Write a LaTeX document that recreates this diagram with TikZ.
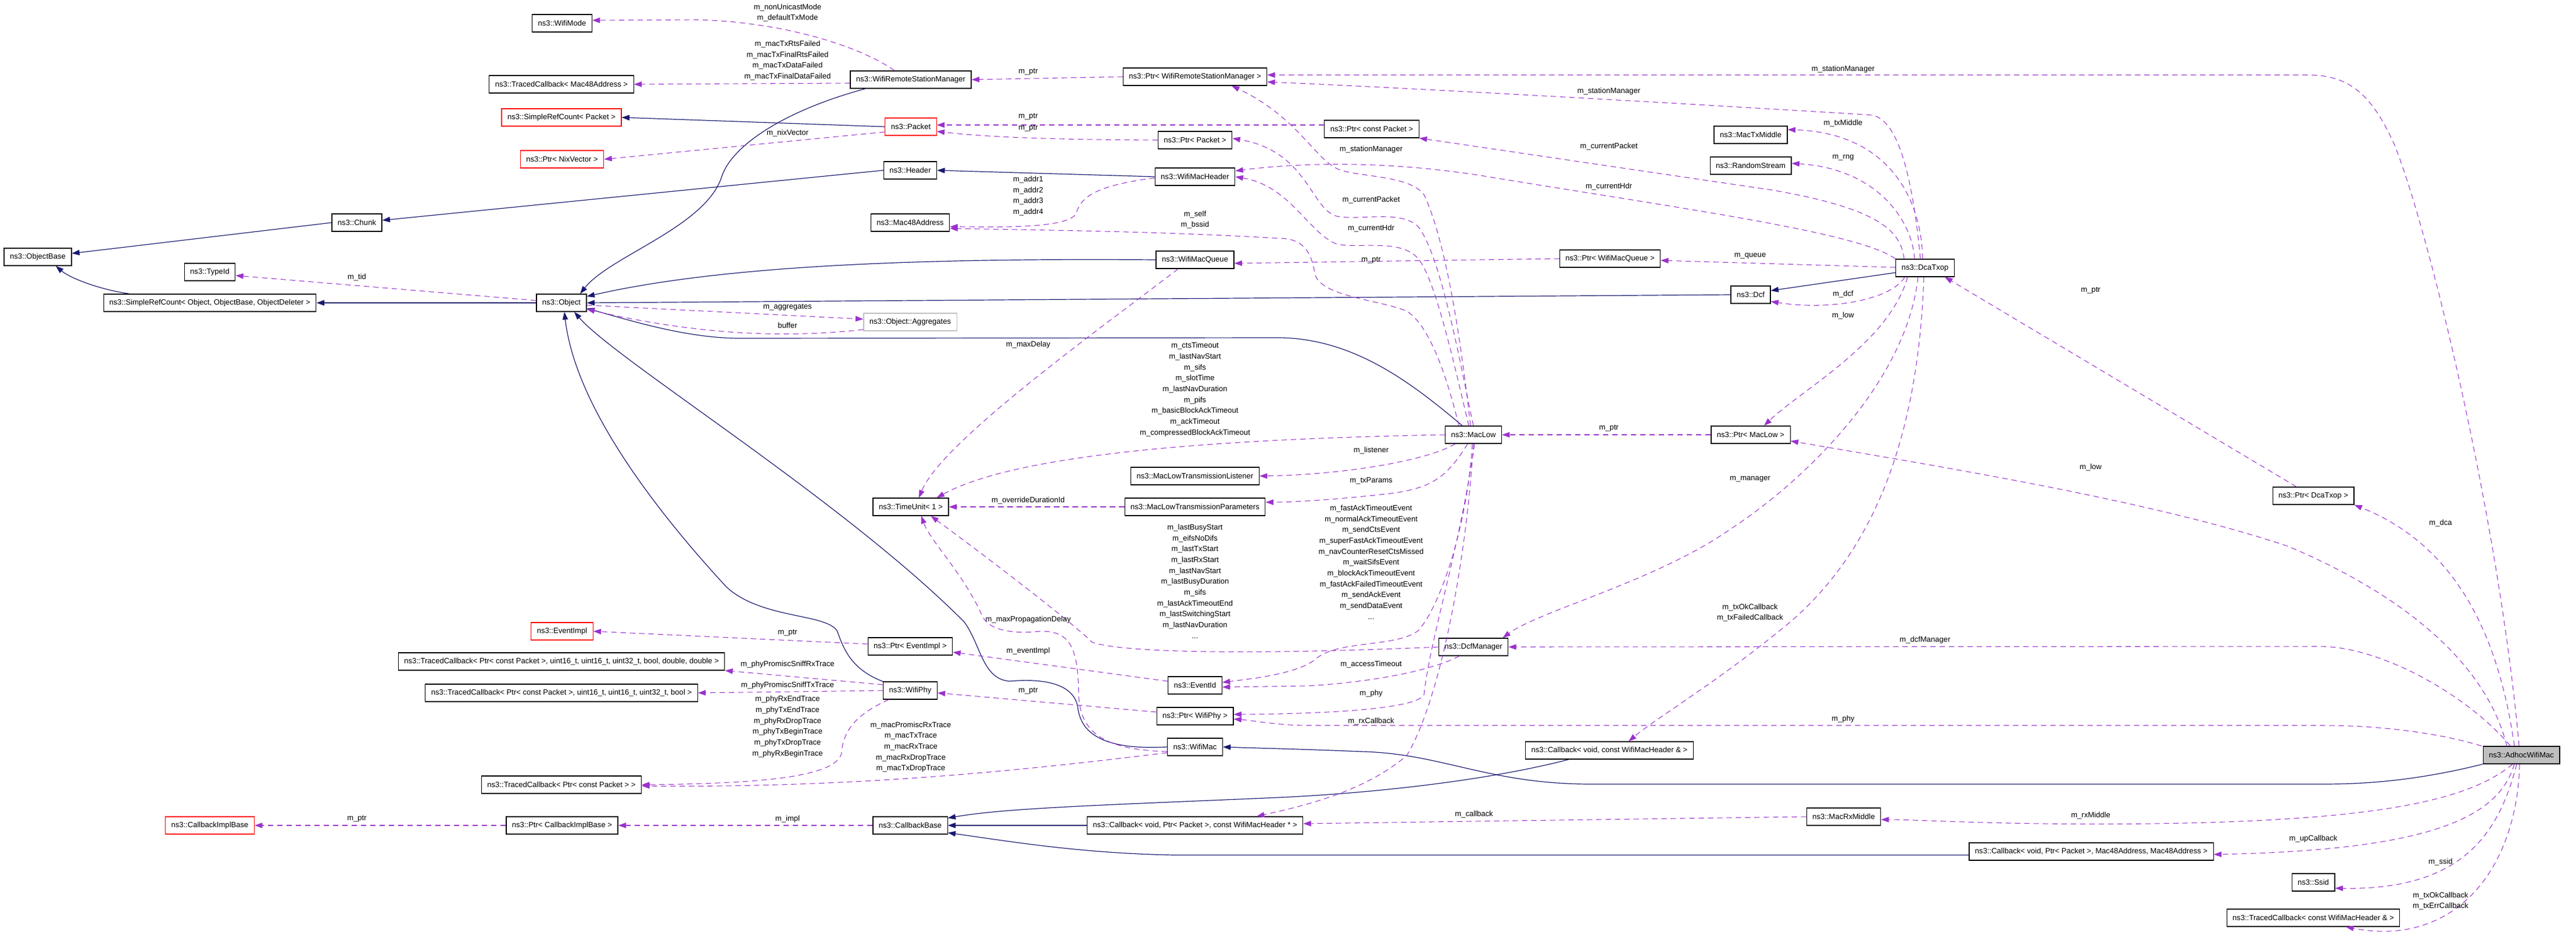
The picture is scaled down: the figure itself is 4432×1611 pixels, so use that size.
\documentclass[tikz,border=0pt]{standalone}
\usepackage{fontspec}
\setmainfont{Liberation Sans}
\usetikzlibrary{arrows.meta, calc}
\definecolor{depcol}{HTML}{9A32CD}
\definecolor{inhcol}{HTML}{191970}
\definecolor{nodered}{HTML}{FF0000}
\definecolor{aggrgray}{HTML}{BFBFBF}

\begin{document}
\begin{tikzpicture}[x=0.75pt, y=-0.75pt,
    cls/.style={draw=black, fill=white, line width=0.9pt, font=\fontsize{9.8}{14}\selectfont,
                minimum height=22.5pt, inner xsep=7.5pt, inner ysep=1pt},
    redcls/.style={cls, draw=nodered},
    graycls/.style={cls, draw=aggrgray},
    maincls/.style={cls, fill=aggrgray},
    lbl/.style={font=\fontsize{9.8}{14}\selectfont, align=center, inner sep=0pt},
    dep/.style={draw=depcol, line width=0.8pt, dash pattern=on 7pt off 5pt,
                -{Triangle[length=10pt,width=7pt]}},
    inh/.style={draw=inhcol, line width=0.9pt, -{Triangle[length=10pt,width=7pt]}}]
    \useasboundingbox (0,0) rectangle (4432,1611);

    % classes, left part
    \node[cls] (wifimode) at (967,40) {ns3::WifiMode};
    \node[cls] (tcmac) at (966,145) {ns3::TracedCallback< Mac48Address >};
    \node[redcls] (srcpacket) at (966,202) {ns3::SimpleRefCount< Packet >};
    \node[redcls] (ptrnix) at (967,274) {ns3::Ptr< NixVector >};
    \node[cls] (chunk) at (614,383) {ns3::Chunk};
    \node[cls] (objbase) at (65,442) {ns3::ObjectBase};
    \node[cls] (typeid) at (361,468) {ns3::TypeId};
    \node[cls] (srcobject) at (361,521) {ns3::SimpleRefCount< Object, ObjectBase, ObjectDeleter >};
    \node[cls] (object) at (966,521) {ns3::Object};
    \node[redcls] (eventimpl) at (967,1086) {ns3::EventImpl};
    \node[cls] (tcsniffrx) at (966,1138) {ns3::TracedCallback< Ptr< const Packet >, uint16\_t, uint16\_t, uint32\_t, bool, double, double >};
    \node[cls] (tcsnifftx) at (966,1192) {ns3::TracedCallback< Ptr< const Packet >, uint16\_t, uint16\_t, uint32\_t, bool >};
    \node[cls] (tcpacket) at (966,1350) {ns3::TracedCallback< Ptr< const Packet > >};
    \node[redcls] (cbimplbase) at (361,1420) {ns3::CallbackImplBase};
    \node[cls] (ptrcbimpl) at (967,1420) {ns3::Ptr< CallbackImplBase >};

    % classes, middle part
    \node[cls] (wrsm) at (1567,137) {ns3::WifiRemoteStationManager};
    \node[redcls] (packet) at (1567,218) {ns3::Packet};
    \node[cls] (header) at (1566,293) {ns3::Header};
    \node[cls] (mac48) at (1566,383) {ns3::Mac48Address};
    \node[graycls] (aggregates) at (1566,554) {ns3::Object::Aggregates};
    \node[cls] (timeunit) at (1567,872) {ns3::TimeUnit< 1 >};
    \node[cls] (ptreventimpl) at (1566,1112) {ns3::Ptr< EventImpl >};
    \node[cls] (wifiphy) at (1566,1188) {ns3::WifiPhy};
    \node[cls] (callbackbase) at (1566,1420) {ns3::CallbackBase};
    \node[cls] (ptrwrsm) at (2056,132) {ns3::Ptr< WifiRemoteStationManager >};
    \node[cls] (ptrpacket) at (2056,241) {ns3::Ptr< Packet >};
    \node[cls] (wifimacheader) at (2056,304) {ns3::WifiMacHeader};
    \node[cls] (wifimacqueue) at (2056,447) {ns3::WifiMacQueue};
    \node[cls] (listener) at (2056,819) {ns3::MacLowTransmissionListener};
    \node[cls] (txparams) at (2056,872) {ns3::MacLowTransmissionParameters};
    \node[cls] (eventid) at (2056,1179) {ns3::EventId};
    \node[cls] (ptrwifiphy) at (2056,1232) {ns3::Ptr< WifiPhy >};
    \node[cls] (wifimac) at (2056,1285) {ns3::WifiMac};
    \node[cls] (cbrx) at (2056,1420) {ns3::Callback< void, Ptr< Packet >, const WifiMacHeader * >};
    \node[cls] (ptrconstpacket) at (2360,222) {ns3::Ptr< const Packet >};
    \node[cls] (maclow) at (2535,748) {ns3::MacLow};
    \node[cls] (dcfmanager) at (2535,1113) {ns3::DcfManager};
    \node[cls] (ptrqueue) at (2770,445) {ns3::Ptr< WifiMacQueue >};
    \node[cls] (cbhdr) at (2769,1291) {ns3::Callback< void, const WifiMacHeader \& >};

    % classes, right part
    \node[cls] (mactxmiddle) at (3012,232) {ns3::MacTxMiddle};
    \node[cls] (randomstream) at (3012,285) {ns3::RandomStream};
    \node[cls] (dcf) at (3012,507) {ns3::Dcf};
    \node[cls] (ptrmaclow) at (3012,748) {ns3::Ptr< MacLow >};
    \node[cls] (macrxmiddle) at (3172,1405) {ns3::MacRxMiddle};
    \node[cls] (dcatxop) at (3312,461) {ns3::DcaTxop};
    \node[cls] (cbup) at (3598,1465) {ns3::Callback< void, Ptr< Packet >, Mac48Address, Mac48Address >};
    \node[cls] (ptrdca) at (3980,853) {ns3::Ptr< DcaTxop >};
    \node[cls] (ssid) at (3980,1518) {ns3::Ssid};
    \node[cls] (tchdr) at (3980,1579) {ns3::TracedCallback< const WifiMacHeader \& >};
    \node[maincls] (adhoc) at (4338,1299) {ns3::AdhocWifiMac};

    % inheritance
    \draw[inh] (chunk.west) -- ($(objbase.east)+(0,-6)$);
    \draw[inh] ($(srcobject.north)+(-138,0)$) .. controls (170,498) and (120,478) .. ($(objbase.south)+(31,0)$);
    \draw[inh] (object.west) -- (srcobject.east);
    \draw[inh] (header.west) -- ($(chunk.east)+(0,-4)$);
    \draw[inh] (packet.west) -- (srcpacket.east);
    \draw[inh] (wifimacheader.west) -- (header.east);
    \draw[inh] ($(wrsm.south)+(-78,0)$) .. controls (1350,190) and (1260,250) .. (1242,303)
        .. controls (1215,390) and (1050,440) .. ($(object.north)+(32,0)$);
    \draw[inh] (wifimacqueue.west) .. controls (1600,444) and (1250,455) .. ($(object.east)+(0,-11)$);
    \draw[inh] (dcf.west) -- (object.east);
    \draw[inh] ($(dcatxop.west)+(0,8)$) -- ($(dcf.east)+(0,-7)$);
    \draw[inh] ($(maclow.north)+(-19,0)$) .. controls (2430,660) and (2330,582) .. (2200,581) -- (1273,582)
        .. controls (1180,582) and (1080,550) .. ($(object.south east)+(0,-6)$);
    \draw[inh] (wifimac.west) .. controls (1880,1292) and (1858,1250) .. (1854,1215)
        .. controls (1845,1170) and (1780,1168) .. (1737,1172)
        .. controls (1690,1168) and (1688,1110) .. (1659,1070)
        .. controls (1450,860) and (1060,620) .. ($(object.south)+(22,0)$);
    \draw[inh] (wifiphy.north west) .. controls (1460,1150) and (1450,1110) .. (1440,1085)
        .. controls (1420,1055) and (1310,1065) .. (1250,1010)
        .. controls (1130,880) and (990,700) .. ($(object.south)+(5,0)$);
    \draw[inh] (adhoc.south west) .. controls (4150,1345) and (4060,1349) .. (3994,1349) -- (2738,1349)
        .. controls (2560,1349) and (2480,1296) .. (2342,1293)
        .. controls (2250,1289) and (2160,1287) .. (wifimac.east);
    \draw[inh] ($(cbhdr.south)+(-70,0)$) .. controls (2550,1345) and (2350,1365) .. (2200,1372)
        .. controls (1900,1385) and (1730,1390) .. ($(callbackbase.north east)+(0,3)$);
    \draw[inh] (cbrx.west) -- (callbackbase.east);
    \draw[inh] ($(cbup.west)+(0,6)$) -- (2020,1471) .. controls (1860,1468) and (1740,1448) .. ($(callbackbase.south east)+(0,-3)$);

    % members, left and middle
    \draw[dep] ($(wrsm.north)+(-28,0)$) .. controls (1480,80) and (1350,38) .. (1200,34) -- ($(wifimode.east)+(0,-5)$);
    \draw[dep] ($(wrsm.west)+(0,6)$) -- (tcmac.east);
    \draw[dep] ($(packet.west)+(0,9)$) -- (ptrnix.east);
    \draw[dep] (ptrwrsm.west) -- (wrsm.east);
    \draw[dep] ($(ptrconstpacket.west)+(0,-7)$) -- ($(packet.east)+(0,-3)$);
    \draw[dep] (ptrpacket.west) .. controls (1800,240) and (1700,236) .. ($(packet.east)+(0,8)$);
    \draw[dep] ($(wifimacheader.west)+(0,2)$) .. controls (1880,320) and (1860,340) .. (1851,368)
        .. controls (1835,395) and (1700,390) .. ($(mac48.east)+(0,7)$);
    \draw[dep] ($(object.west)+(0,-4)$) -- ($(typeid.east)+(0,6)$);
    \draw[dep] ($(object.east)+(0,4)$) -- ($(aggregates.west)+(0,-5)$);
    \draw[dep] ($(aggregates.west)+(0,13)$) .. controls (1350,582) and (1200,576) .. ($(object.east)+(0,11)$);
    \draw[dep] ($(wifimacqueue.south)+(-29,0)$) .. controls (1900,560) and (1620,760) .. ($(timeunit.north)+(14,0)$);
    \draw[dep] (txparams.west) -- (timeunit.east);
    \draw[dep] (dcfmanager.west) .. controls (2250,1123) and (1950,1128) .. (1879,1105)
        .. controls (1850,1075) and (1700,960) .. ($(timeunit.south east)+(-31,0)$);
    \draw[dep] ($(wifimac.west)+(0,8)$) .. controls (1885,1290) and (1860,1250) .. (1856,1200)
        .. controls (1855,1120) and (1845,1085) .. (1790,1086)
        .. controls (1730,1092) and (1700,1080) .. (1690,1060)
        .. controls (1660,990) and (1600,930) .. ($(timeunit.south)+(18,0)$);
    \draw[dep] (dcfmanager.south) ++(-24,0) .. controls (2470,1150) and (2380,1172) .. (2250,1180) -- ($(eventid.east)+(0,3)$);
    \draw[dep] ($(eventid.west)+(0,-7)$) -- ($(ptreventimpl.east)+(0,10)$);
    \draw[dep] ($(ptreventimpl.west)+(0,-4)$) -- (eventimpl.east);
    \draw[dep] ($(wifiphy.west)+(0,-10)$) -- (tcsniffrx.south east);
    \draw[dep] (wifiphy.west) -- (tcsnifftx.east);
    \draw[dep] ($(wifiphy.south west)+(10,0)$) .. controls (1470,1230) and (1450,1260) .. (1448,1295)
        .. controls (1440,1338) and (1300,1348) .. (tcpacket.east);
    \draw[dep] ($(wifimac.west)+(0,10)$) .. controls (1800,1320) and (1500,1356) .. ($(tcpacket.east)+(0,2)$);
    \draw[dep] ($(ptrwifiphy.west)+(0,-7)$) -- ($(wifiphy.east)+(0,4)$);
    \draw[dep] (callbackbase.west) -- (ptrcbimpl.east);
    \draw[dep] (ptrcbimpl.west) -- (cbimplbase.east);
    \draw[dep] (macrxmiddle.west) -- ($(cbrx.east)+(0,-3)$);
    \draw[dep] (ptrqueue.west) -- ($(wifimacqueue.east)+(0,6)$);

    % members of MacLow
    \draw[dep] ($(maclow.north)+(-25,0)$) .. controls (2490,650) and (2460,560) .. (2420,535)
        .. controls (2370,515) and (2270,510) .. (2262,470)
        .. controls (2255,425) and (2235,410) .. (2200,410)
        .. controls (2000,398) and (1800,396) .. ($(mac48.east)+(0,10)$);
    \draw[dep] ($(maclow.north)+(-5,0)$) .. controls (2515,600) and (2490,420) .. (2450,335)
        .. controls (2425,300) and (2330,305) .. (2300,290)
        .. controls (2260,270) and (2230,200) .. ($(ptrwrsm.south)+(63,0)$);
    \draw[dep] (maclow.north) .. controls (2515,640) and (2480,440) .. (2440,390)
        .. controls (2410,360) and (2340,380) .. (2300,372)
        .. controls (2255,360) and (2250,260) .. ($(ptrpacket.east)+(0,-3)$);
    \draw[dep] ($(maclow.north)+(-8,0)$) .. controls (2505,640) and (2470,480) .. (2440,445)
        .. controls (2410,410) and (2340,428) .. (2300,420)
        .. controls (2250,400) and (2220,320) .. (wifimacheader.east);
    \draw[dep] (maclow.west) .. controls (2100,755) and (1750,780) .. ($(timeunit.north east)+(-21,0)$);
    \draw[dep] ($(maclow.south west)+(18,0)$) .. controls (2450,795) and (2300,817) .. (listener.east);
    \draw[dep] ($(maclow.south)+(-10,0)$) .. controls (2490,820) and (2465,838) .. (2400,848)
        .. controls (2300,860) and (2220,864) .. ($(txparams.east)+(0,-8)$);
    \draw[dep] ($(maclow.south)+(-2,0)$) .. controls (2525,900) and (2480,1040) .. (2440,1085)
        .. controls (2400,1115) and (2300,1100) .. (2262,1135)
        .. controls (2230,1160) and (2150,1168) .. ($(eventid.east)+(0,-5)$);
    \draw[dep] ($(maclow.south)+(2,0)$) .. controls (2510,950) and (2460,1100) .. (2450,1195)
        .. controls (2440,1218) and (2300,1228) .. ($(ptrwifiphy.east)+(0,-3)$);
    \draw[dep] (maclow.south) .. controls (2520,1000) and (2470,1220) .. (2420,1300)
        .. controls (2350,1360) and (2250,1385) .. ($(cbrx.north)+(106,0)$);

    % members of DcaTxop
    \draw[dep] ($(dcatxop.south)+(-30,0)$) .. controls (3250,590) and (3100,670) .. ($(ptrmaclow.north)+(23,0)$);
    \draw[dep] (ptrmaclow.west) -- (maclow.east);
    \draw[dep] ($(dcatxop.south)+(-12,0)$) .. controls (3280,660) and (3100,830) .. (2979,909)
        .. controls (2850,1000) and (2650,1050) .. ($(dcfmanager.north east)+(-10,0)$);
    \draw[dep] ($(dcatxop.south)+(-2,0)$) .. controls (3300,760) and (3220,950) .. (3080,1070)
        .. controls (2960,1170) and (2850,1235) .. ($(cbhdr.north)+(33,0)$);
    \draw[dep] ($(dcatxop.north)+(-8,0)$) .. controls (3290,300) and (3265,205) .. (3220,198)
        .. controls (2900,178) and (2400,150) .. ($(ptrwrsm.east)+(0,9)$);
    \draw[dep] ($(dcatxop.north)+(-36,0)$) .. controls (3270,400) and (3240,360) .. (3049,327) -- (ptrconstpacket.south east);
    \draw[dep] ($(dcatxop.north)+(-4,0)$) .. controls (3305,330) and (3240,228) .. ($(mactxmiddle.east)+(0,-9)$);
    \draw[dep] ($(dcatxop.north)+(-18,0)$) .. controls (3290,380) and (3230,290) .. ($(randomstream.east)+(0,-4)$);
    \draw[dep] (dcatxop.north west) .. controls (3200,400) and (2900,360) .. (2554,303)
        .. controls (2400,278) and (2250,278) .. ($(wifimacheader.east)+(0,-10)$);
    \draw[dep] ($(dcatxop.west)+(0,-1)$) -- ($(ptrqueue.east)+(0,3)$);
    \draw[dep] ($(dcatxop.south)+(-35,0)$) .. controls (3255,515) and (3150,535) .. ($(dcf.south east)+(0,-4)$);
    \draw[dep] ($(ptrdca.north)+(-29,0)$) -- ($(dcatxop.south)+(34,0)$);

    % members of AdhocWifiMac
    \draw[dep] ($(adhoc.north)+(-4,0)$) .. controls (4300,900) and (4180,400) .. (4120,250)
        .. controls (4080,160) and (4040,129) .. (3970,129) -- ($(ptrwrsm.east)+(0,-3)$);
    \draw[dep] ($(adhoc.north)+(-25,0)$) .. controls (4280,1150) and (4150,1030) .. (3937,940)
        .. controls (3700,860) and (3320,800) .. ($(ptrmaclow.south east)+(0,-5)$);
    \draw[dep] ($(adhoc.north)+(-12,0)$) .. controls (4300,1100) and (4230,940) .. (ptrdca.south east);
    \draw[dep] ($(adhoc.north)+(-19,0)$) .. controls (4250,1200) and (4100,1112) .. (3990,1112) -- (dcfmanager.east);
    \draw[dep] ($(adhoc.north west)+(-2,0)$) .. controls (4200,1262) and (4100,1248) .. (3994,1248) -- (2250,1248)
        .. controls (2200,1248) and (2160,1240) .. ($(ptrwifiphy.east)+(0,5)$);
    \draw[dep] ($(adhoc.south)+(-15,0)$) .. controls (4250,1375) and (4100,1412) .. (3700,1417)
        .. controls (3450,1420) and (3300,1410) .. ($(macrxmiddle.east)+(0,5)$);
    \draw[dep] ($(adhoc.south)+(-12,0)$) .. controls (4300,1400) and (4200,1462) .. ($(cbup.east)+(0,5)$);
    \draw[dep] ($(adhoc.south)+(-8,0)$) .. controls (4300,1430) and (4240,1532) .. ($(ssid.east)+(0,10)$);
    \draw[dep] ($(adhoc.south)+(-3,0)$) .. controls (4330,1500) and (4220,1630) .. ($(tchdr.south)+(56,0)$);

    % labels
    \node[lbl] (lbtxmode) at (1355,22) {m\_nonUnicastMode\\m\_defaultTxMode};
    \node[lbl] (lbfailed) at (1355,104) {m\_macTxRtsFailed\\m\_macTxFinalRtsFailed\\m\_macTxDataFailed\\m\_macTxFinalDataFailed};
    \node[lbl] (lbnix) at (1355,229) {m\_nixVector};
    \node[lbl] (lbptrwrsm) at (1769,124) {m\_ptr};
    \node[lbl] (lbptrcpkt) at (1769,201) {m\_ptr};
    \node[lbl] (lbptrpkt) at (1769,221) {m\_ptr};
    \node[lbl] (lbaddr) at (1769,337) {m\_addr1\\m\_addr2\\m\_addr3\\m\_addr4};
    \node[lbl] (lbself) at (2056,378) {m\_self\\m\_bssid};
    \node[lbl] (lbtid) at (614,477) {m\_tid};
    \node[lbl] (lbaggr) at (1355,529) {m\_aggregates};
    \node[lbl] (lbbuffer) at (1355,560) {buffer};
    \node[lbl] (lbmaxdelay) at (1769,593) {m\_maxDelay};
    \node[lbl] (lbmaclowtime) at (2056,670) {m\_ctsTimeout\\m\_lastNavStart\\m\_sifs\\m\_slotTime\\m\_lastNavDuration\\m\_pifs\\m\_basicBlockAckTimeout\\m\_ackTimeout\\m\_compressedBlockAckTimeout};
    \node[lbl] (lboverride) at (1769,861) {m\_overrideDurationId};
    \node[lbl] (lbdcftime) at (2056,1000) {m\_lastBusyStart\\m\_eifsNoDifs\\m\_lastTxStart\\m\_lastRxStart\\m\_lastNavStart\\m\_lastBusyDuration\\m\_sifs\\m\_lastAckTimeoutEnd\\m\_lastSwitchingStart\\m\_lastNavDuration\\...};
    \node[lbl] (lbmaxprop) at (1769,1066) {m\_maxPropagationDelay};
    \node[lbl] (lbsm1) at (3171,119) {m\_stationManager};
    \node[lbl] (lbsm2) at (2768,157) {m\_stationManager};
    \node[lbl] (lbsm3) at (2359,257) {m\_stationManager};
    \node[lbl] (lbtxmiddle) at (3171,212) {m\_txMiddle};
    \node[lbl] (lbcurpkt1) at (2768,252) {m\_currentPacket};
    \node[lbl] (lbrng) at (3171,271) {m\_rng};
    \node[lbl] (lbcurhdr1) at (2768,321) {m\_currentHdr};
    \node[lbl] (lbcurpkt2) at (2359,344) {m\_currentPacket};
    \node[lbl] (lbcurhdr2) at (2359,393) {m\_currentHdr};
    \node[lbl] (lbptrqueue) at (2359,448) {m\_ptr};
    \node[lbl] (lbqueue) at (3011,440) {m\_queue};
    \node[lbl] (lbdcf) at (3171,506) {m\_dcf};
    \node[lbl] (lbptrdca) at (3597,500) {m\_ptr};
    \node[lbl] (lblow1) at (3171,543) {m\_low};
    \node[lbl] (lbptrlow) at (2768,737) {m\_ptr};
    \node[lbl] (lblistener) at (2359,775) {m\_listener};
    \node[lbl] (lbtxparams) at (2359,827) {m\_txParams};
    \node[lbl] (lbmanager) at (3011,824) {m\_manager};
    \node[lbl] (lblow2) at (3597,804) {m\_low};
    \node[lbl] (lbdca) at (4199,900) {m\_dca};
    \node[lbl] (lbevents) at (2359,967) {m\_fastAckTimeoutEvent\\m\_normalAckTimeoutEvent\\m\_sendCtsEvent\\m\_superFastAckTimeoutEvent\\m\_navCounterResetCtsMissed\\m\_waitSifsEvent\\m\_blockAckTimeoutEvent\\m\_fastAckFailedTimeoutEvent\\m\_sendAckEvent\\m\_sendDataEvent\\...};
    \node[lbl] (lbtxcb) at (3011,1054) {m\_txOkCallback\\m\_txFailedCallback};
    \node[lbl] (lbdcfmgr) at (3312,1101) {m\_dcfManager};
    \node[lbl] (lbaccess) at (2359,1143) {m\_accessTimeout};
    \node[lbl] (lbphy1) at (2359,1193) {m\_phy};
    \node[lbl] (lbrxcb) at (2359,1241) {m\_rxCallback};
    \node[lbl] (lbphy2) at (3171,1237) {m\_phy};
    \node[lbl] (lbptrevent) at (1355,1089) {m\_ptr};
    \node[lbl] (lbeventimpl) at (1769,1120) {m\_eventImpl};
    \node[lbl] (lbsniffrx) at (1355,1143) {m\_phyPromiscSniffRxTrace};
    \node[lbl] (lbsnifftx) at (1355,1179) {m\_phyPromiscSniffTxTrace};
    \node[lbl] (lbptrphy) at (1769,1189) {m\_ptr};
    \node[lbl] (lbphytrace) at (1355,1250) {m\_phyRxEndTrace\\m\_phyTxEndTrace\\m\_phyRxDropTrace\\m\_phyTxBeginTrace\\m\_phyTxDropTrace\\m\_phyRxBeginTrace};
    \node[lbl] (lbmactrace) at (1567,1285) {m\_macPromiscRxTrace\\m\_macTxTrace\\m\_macRxTrace\\m\_macRxDropTrace\\m\_macTxDropTrace};
    \node[lbl] (lbimpl) at (1355,1409) {m\_impl};
    \node[lbl] (lbptrcb) at (614,1409) {m\_ptr};
    \node[lbl] (lbcallback) at (2536,1401) {m\_callback};
    \node[lbl] (lbrxmiddle) at (3597,1403) {m\_rxMiddle};
    \node[lbl] (lbupcb) at (3980,1443) {m\_upCallback};
    \node[lbl] (lbssid) at (4199,1483) {m\_ssid};
    \node[lbl] (lbtxerr) at (4199,1550) {m\_txOkCallback\\m\_txErrCallback};
\end{tikzpicture}
\end{document}
